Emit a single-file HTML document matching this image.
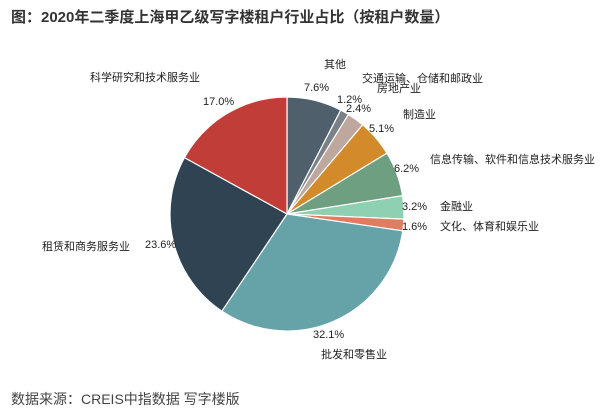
<!DOCTYPE html>
<html><head><meta charset="utf-8">
<style>
body{margin:0;background:#fff;width:614px;height:414px;overflow:hidden;font-family:"Liberation Sans","Noto Sans CJK SC",sans-serif;}
.t{position:absolute;left:11px;top:6px;font-size:15px;font-weight:bold;color:#333;}
.s{position:absolute;left:11px;top:389px;font-size:14px;color:#444;}
</style></head><body>
<div class="t">图：2020年二季度上海甲乙级写字楼租户行业占比（按租户数量）</div>
<svg id="c" width="614" height="414" style="position:absolute;left:0;top:0" font-family="Liberation Sans, Noto Sans CJK SC, sans-serif" font-size="11" fill="#222"></svg>
<div class="s">数据来源：CREIS中指数据 写字楼版</div>
<script>
var d=[[7.6,"#4f5f6c"],[1.2,"#7a8087"],[2.4,"#bea79c"],[5.1,"#d28a2a"],[6.2,"#6f9f81"],[3.2,"#8fd0b2"],[1.6,"#df7d60"],[32.1,"#65a3a9"],[23.6,"#2f4352"],[17.0,"#c13d38"]];
var cx=287,cy=214,r=117,a=0,s="";
d.forEach(function(e){var a2=a+e[0]/100*2*Math.PI;
var x1=cx+r*Math.sin(a),y1=cy-r*Math.cos(a),x2=cx+r*Math.sin(a2),y2=cy-r*Math.cos(a2);
s+='<path d="M'+cx+' '+cy+'L'+x1+' '+y1+'A'+r+' '+r+' 0 '+(a2-a>Math.PI?1:0)+' 1 '+x2+' '+y2+'Z" fill="'+e[1]+'" stroke="#fff" stroke-width="1.2"/>';a=a2;});
var L=[[304,91,"7.6%"],[337,103,"1.2%"],[346,112,"2.4%"],[369,132,"5.1%"],[394,172,"6.2%"],[402,210,"3.2%"],[402,230,"1.6%"],[313,338,"32.1%"],[145,248,"23.6%"],[203,105,"17.0%"],
[324,68,"其他"],[362,82,"交通运输、仓储和邮政业"],[377,92,"房地产业"],[403,118,"制造业"],[430,163,"信息传输、软件和信息技术服务业"],[440,210,"金融业"],[440,230,"文化、体育和娱乐业"],[321,358,"批发和零售业"],[42,250,"租赁和商务服务业"],[90,81,"科学研究和技术服务业"]];
L.forEach(function(l){s+='<text x="'+l[0]+'" y="'+l[1]+'">'+l[2]+'</text>';});
document.getElementById("c").innerHTML=s;
</script>
</body></html>
